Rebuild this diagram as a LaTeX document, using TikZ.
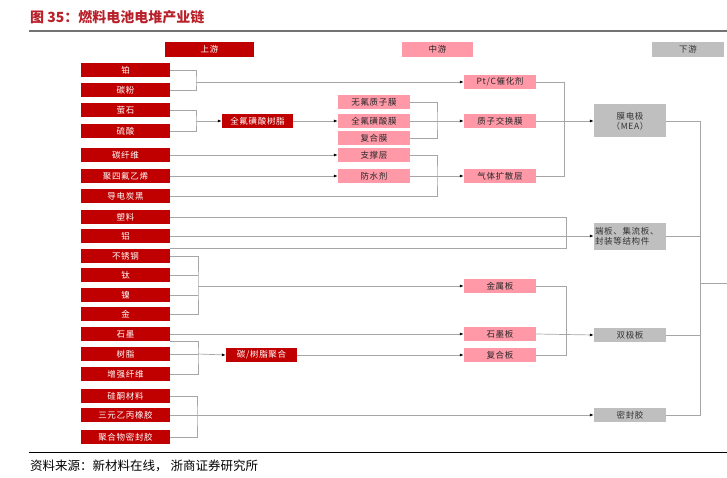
\documentclass[tikz,border=0pt]{standalone}
\usepackage{fontspec}
\newfontfamily\cjk{Noto Sans CJK SC}
\newfontfamily\boxcjk{Noto Sans CJK SC}[LetterSpace=8]
\definecolor{upred}{HTML}{C00000}
\definecolor{midpink}{HTML}{FF99A8}
\definecolor{downgray}{HTML}{BFBFBF}
\definecolor{wiregray}{HTML}{A6A6A6}
\definecolor{titlered}{HTML}{B8202A}
\usetikzlibrary{arrows.meta}

\begin{document}
\begin{tikzpicture}[
      x=1pt, y=-1pt,
      upbox/.style={rectangle, fill=upred, text=white, minimum width=89pt,
                    minimum height=14pt, inner sep=0pt,
                    font=\boxcjk\fontsize{8.5}{10}\selectfont},
      midbox/.style={upbox, fill=midpink, text=black!85, minimum width=72pt},
      downbox/.style={upbox, fill=downgray, text=black!80, minimum width=72pt},
      wire/.style={draw=wiregray, line width=0.7pt},
      feed/.style={wire, -{Latex[length=4pt,width=3pt,color=black]}},
    ]
    \useasboundingbox (0,0) rectangle (727,478);

    % title and rules
    \node[anchor=west, inner sep=0pt, text=titlered,
          font=\cjk\bfseries\fontsize{14}{16}\selectfont] (title) at (30,17) {图 35：燃料电池电堆产业链};
    \draw[line width=1.5pt, draw=black!55] (29,31) -- (727,31);
    \draw[line width=0.8pt] (29,452) -- (727,452);
    \node[anchor=west, inner sep=0pt, font=\cjk\fontsize{12.5}{14}\selectfont] (src) at (30,466) {资料来源：新材料在线， 浙商证券研究所};

    % headers
    \node[upbox, minimum height=15pt] (hup) at (209.5,49.5) {上游};
    \node[midbox, minimum width=71pt, minimum height=15pt] (hmid) at (437.5,49.5) {中游};
    \node[downbox, minimum height=15pt] (hdown) at (688,49.5) {下游};

    % upstream materials
    \node[upbox] (pt)   at (125.5,70)  {铂};
    \node[upbox] (cb)   at (125.5,90)  {碳粉};
    \node[upbox] (fl)   at (125.5,110) {萤石};
    \node[upbox] (sa)   at (125.5,131) {硫酸};
    \node[upbox] (cf)   at (125.5,155) {碳纤维};
    \node[upbox] (ptfe) at (125.5,176) {聚四氟乙烯};
    \node[upbox] (ccb)  at (125.5,196) {导电炭黑};
    \node[upbox] (pl)   at (125.5,217) {塑料};
    \node[upbox] (al)   at (125.5,236) {铝};
    \node[upbox] (ss)   at (125.5,256) {不锈钢};
    \node[upbox] (ti)   at (125.5,275) {钛};
    \node[upbox] (ni)   at (125.5,295) {镍};
    \node[upbox] (au)   at (125.5,314) {金};
    \node[upbox] (gr)   at (125.5,334) {石墨};
    \node[upbox] (rs)   at (125.5,354) {树脂};
    \node[upbox] (rf)   at (125.5,374) {增强纤维};
    \node[upbox] (si)   at (125.5,396) {硅酮材料};
    \node[upbox] (epdm) at (125.5,415) {三元乙丙橡胶};
    \node[upbox] (ps)   at (125.5,437) {聚合物密封胶};

    \node[upbox, minimum width=71pt] (pfsr) at (257.5,121) {全氟磺酸树脂};
    \node[upbox, minimum width=71pt] (cr)   at (261.5,355) {碳/树脂聚合};

    % membranes and layers
    \node[midbox] (nf)  at (374,102) {无氟质子膜};
    \node[midbox] (pfm) at (374,121) {全氟磺酸膜};
    \node[midbox] (cm)  at (374,138) {复合膜};
    \node[midbox] (sup) at (374,155) {支撑层};
    \node[midbox] (wp)  at (374,176) {防水剂};

    % midstream
    \node[midbox] (ptc) at (500,82)  {Pt/C催化剂};
    \node[midbox] (pem) at (500,121) {质子交换膜};
    \node[midbox] (gdl) at (500,176) {气体扩散层};
    \node[midbox] (mp)  at (500,286) {金属板};
    \node[midbox] (gp)  at (500,334) {石墨板};
    \node[midbox] (cp)  at (500,355) {复合板};

    % downstream
    \node[downbox, minimum height=33pt, align=center] (mea) at (630,121) {膜电极\\（MEA）};
    \node[downbox, minimum height=27pt, text width=70pt, align=left] (ep) at (630,236) {端板、集流板、\\封装等结构件};
    \node[downbox] (bp)   at (630,335) {双极板};
    \node[downbox] (seal) at (630,415) {密封胶};

    % junctions
    \coordinate (j1)  at (196,82);
    \coordinate (j2)  at (196,121);
    \coordinate (j3)  at (437,121);
    \coordinate (j4)  at (437,176);
    \coordinate (j5)  at (564,121);
    \coordinate (j6)  at (566,236);
    \coordinate (j7)  at (198,286);
    \coordinate (j8)  at (198,354);
    \coordinate (j9)  at (566,334);
    \coordinate (j10) at (197,415);
    \coordinate (j11) at (700,283);
    \coordinate (out) at (727,283);

    % catalyst
    \draw[wire] (pt.east) -| (j1) |- (cb.east);
    \draw[feed] (j1) -- (ptc.west);
    % membrane
    \draw[wire] (fl.east) -| (j2) |- (sa.east);
    \draw[feed] (j2) -- (pfsr.west);
    \draw[feed] (pfsr.east) -- (pfm.west);
    \draw[wire] (nf.east) -| (j3) |- (cm.east);
    \draw[wire] (pfm.east) -- (j3);
    \draw[feed] (j3) -- (pem.west);
    % gas diffusion layer
    \draw[feed] (cf.east) -- (sup.west);
    \draw[feed] (ptfe.east) -- (wp.west);
    \draw[wire] (sup.east) -| (j4) |- (ccb.east);
    \draw[wire] (wp.east) -- (j4);
    \draw[feed] (j4) -- (gdl.west);
    % MEA
    \draw[wire] (ptc.east) -| (j5) |- (gdl.east);
    \draw[wire] (pem.east) -- (j5);
    \draw[feed] (j5) -- (mea.west);
    % end plates
    \draw[wire] (pl.east) -| (j6) |- (ss.north east);
    \draw[feed] (al.east) -- (ep.west);
    % bipolar plates
    \draw[wire] (ss.east) -| (j7) |- (au.east);
    \draw[wire] (ti.east) -- (ti.east -| j7);
    \draw[wire] (ni.east) -- (ni.east -| j7);
    \draw[feed] (j7) -- (mp.west);
    \draw[feed] (gr.east) -- (gp.west);
    \draw[wire] (gr.south east) -| (j8) |- (rf.east);
    \draw[wire] (rs.east) -- (j8);
    \draw[feed] (j8) -- (cr.west);
    \draw[feed] (cr.east) -- (cp.west);
    \draw[wire] (mp.east) -| (j9) |- (cp.east);
    \draw[feed] (gp.east) -- (bp.west);
    % sealant
    \draw[wire] (si.east) -| (j10) |- (ps.east);
    \draw[feed] (epdm.east) -- (seal.west);
    % stack
    \draw[wire] (mea.east) -| (j11) |- (seal.east);
    \draw[wire] (ep.east) -| (j11);
    \draw[wire] (bp.east) -| (j11);
    \draw[wire] (j11) -- (out);
  \end{tikzpicture}
\end{document}
